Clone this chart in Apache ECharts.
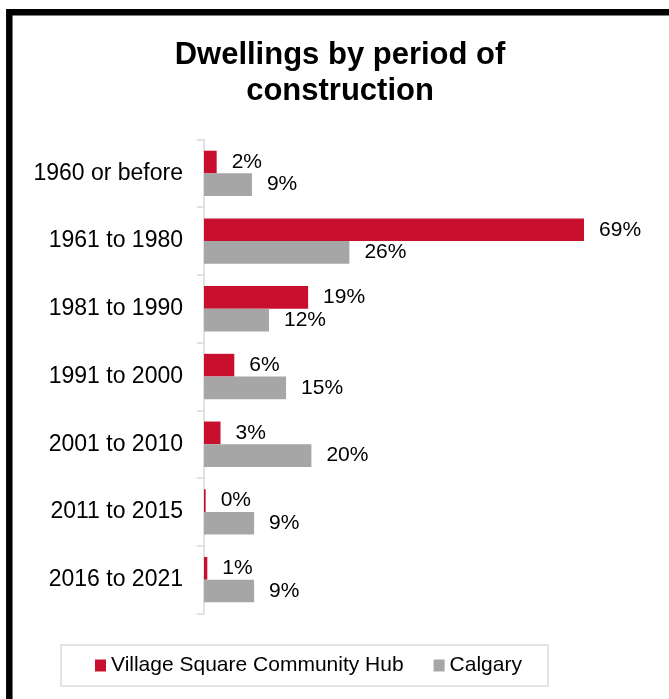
<!DOCTYPE html>
<html>
<head>
<meta charset="utf-8">
<script src="https://cdn.jsdelivr.net/npm/echarts@6/dist/echarts.min.js"></script>
<style>
  html, body { margin: 0; padding: 0; background: #fff; }
  #chart { width: 669px; height: 699px; }
</style>
</head>
<body>
<div id="chart"></div>
<script>
// data (bar lengths estimated, labels show rounded %)
const periods = ['1960 or before', '1961 to 1980', '1981 to 1990', '1991 to 2000',
  '2001 to 2010', '2011 to 2015', '2016 to 2021'];
const hubValues = [2.3, 69, 18.9, 5.5, 3.0, 0.3, 0.6];
const calgaryValues = [8.7, 26.4, 11.8, 14.9, 19.5, 9.1, 9.1];

const RED = '#C8102E';
const GREY = '#A6A6A6';
const FONT = '"Liberation Sans", Arial, sans-serif';

const chart = echarts.init(document.getElementById('chart'));

const valueLabel = {
  show: true,
  position: 'right',
  distance: 15,
  formatter: p => Math.round(p.value) + '%',
  color: '#000',
  fontFamily: FONT,
  fontSize: 21
};

const option = {
  animation: false,
  backgroundColor: '#fff',
  // black frame, partly cut off on the right and bottom
  graphic: [{
    type: 'rect',
    shape: { x: 9.3, y: 12.3, width: 720, height: 720 },
    style: { fill: 'none', stroke: '#000', lineWidth: 6.5 },
    z: 100
  }],
  title: {
    text: 'Dwellings by period of\nconstruction',
    left: 335,
    textAlign: 'center',
    top: 32,
    padding: 5,
    textStyle: {
      fontFamily: FONT,
      fontSize: 31,
      fontWeight: 'bold',
      lineHeight: 36,
      color: '#000'
    }
  },
  legend: {
    data: ['Village Square Community Hub', 'Calgary'],
    left: 61,
    top: 645,
    padding: [10, 26, 10, 34],
    itemGap: 30,
    itemWidth: 11,
    itemHeight: 12,
    icon: 'rect',
    borderColor: '#e4e4e4',
    borderWidth: 2,
    textStyle: { fontFamily: FONT, fontSize: 21, color: '#000' }
  },
  grid: {
    left: 204,
    top: 139.5,
    bottom: 85.5,
    width: 440.6
  },
  xAxis: {
    type: 'value',
    min: 0,
    max: 80,
    show: false
  },
  yAxis: {
    type: 'category',
    data: periods,
    inverse: true,
    axisLine: { lineStyle: { color: '#d9d9d9', width: 1.5 } },
    axisTick: { show: true, length: 7, lineStyle: { color: '#d9d9d9', width: 1.5 } },
    axisLabel: { color: '#000', fontFamily: FONT, fontSize: 23, margin: 21 }
  },
  series: [
    {
      name: 'Village Square Community Hub',
      type: 'bar',
      data: hubValues,
      barGap: 0,
      barCategoryGap: '33%',
      itemStyle: { color: RED },
      label: valueLabel
    },
    {
      name: 'Calgary',
      type: 'bar',
      data: calgaryValues,
      barGap: 0,
      barCategoryGap: '33%',
      itemStyle: { color: GREY },
      label: valueLabel
    }
  ]
};

chart.setOption(option);
</script>
</body>
</html>
